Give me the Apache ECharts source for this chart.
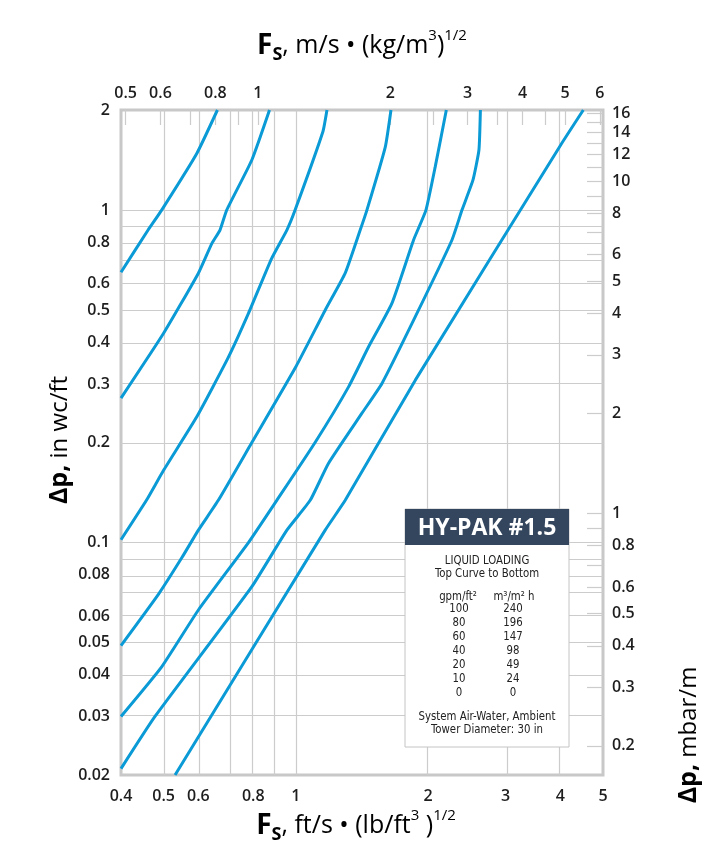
<!DOCTYPE html>
<html>
<head>
<meta charset="utf-8">
<script src="https://cdn.jsdelivr.net/npm/echarts@6/dist/echarts.min.js"></script>
<style>
  html, body { margin: 0; padding: 0; background: #fff; }
  #chart { width: 717px; height: 867px; }
</style>
</head>
<body>
<div id="chart"></div>
<script>
// ---- Data (x = Fs ft/s·(lb/ft3)^1/2, y = Δp in wc/ft) ----
const curve100 = [[0.4,0.65],[0.461,0.871],[0.495,1.0],[0.595,1.48],[0.663,2.0]];
const curve80  = [[0.4,0.272],[0.5,0.426],[0.6,0.646],[0.644,0.794],[0.672,0.871],[0.696,1.0],[0.794,1.415],[0.871,2.0]];
const curve60  = [[0.4,0.102],[0.457,0.134],[0.5,0.165],[0.595,0.239],[0.7,0.358],[0.78,0.489],[0.881,0.716],[0.954,0.871],[0.996,1.0],[1.152,1.72],[1.177,2.0]];
const curve40  = [[0.4,0.049],[0.487,0.07],[0.55,0.09],[0.6,0.109],[0.666,0.134],[0.794,0.2],[1.0,0.338],[1.166,0.5],[1.295,0.646],[1.401,0.871],[1.451,1.0],[1.598,1.55],[1.646,2.0]];
const curve20  = [[0.4,0.03],[0.495,0.0423],[0.6,0.0627],[0.78,0.1],[0.905,0.134],[1.106,0.2],[1.318,0.294],[1.464,0.388],[1.654,0.524],[1.853,0.813],[1.977,1.0],[2.076,1.351],[2.2,2.0]];
const curve10  = [[0.4,0.0209],[0.478,0.03],[0.794,0.0737],[0.954,0.109],[1.078,0.134],[1.186,0.173],[1.414,0.245],[1.57,0.301],[1.87,0.478],[2.266,0.813],[2.388,1.0],[2.53,1.232],[2.61,1.516],[2.63,2.0]];
const curve0   = [[0.531,0.02],[1.166,0.109],[1.295,0.134],[1.87,0.308],[4.006,1.57],[4.51,2.0]];

// axis ranges
const xRange = [0.4, 5];
const yRange = [0.02, 2];

// tick labels
const bottomLabels = [0.4,0.5,0.6,0.8,1,2,3,4,5];
const leftLabels   = [0.02,0.03,0.04,0.05,0.06,0.08,0.1,0.2,0.3,0.4,0.5,0.6,0.8,1,2];
const topLabels    = [0.5,0.6,0.8,1,2,3,4,5,6];
const topTicks     = [0.5,0.6,0.7,0.8,0.9,1,2,2.5,3,3.5,4,4.5,5,6];
const rightLabels  = [0.2,0.3,0.4,0.5,0.6,0.8,1,2,3,4,5,6,8,10,12,14,16];
const rightTicks   = [0.2,0.3,0.4,0.5,0.6,0.7,0.8,0.9,1,2,3,4,5,6,7,8,9,10,11,12,13,14,15,16];
const gridX = [0.5,0.6,0.7,0.8,0.9,1,2,3,4];
const gridY = [0.03,0.04,0.05,0.06,0.07,0.08,0.09,0.1,0.2,0.3,0.4,0.5,0.6,0.7,0.8,0.9,1];

// legend table
const gpmValues = [100,80,60,40,20,10,0];
const m3Values  = [240,196,147,98,49,24,0];

// unit conversions
const K_TOP = 0.3048 * Math.sqrt(16.018463);   // ft/s(lb/ft3)^.5 -> m/s(kg/m3)^.5
const K_RIGHT = 249.0889 / 0.3048 / 100;        // in wc/ft -> mbar/m

const L = Math.log10;
const curves = [curve100, curve80, curve60, curve40, curve20, curve10, curve0];
const fmt = v => String(Number(Math.pow(10, v).toPrecision(3)));

const labelFont = { fontFamily: '"Open Sans", sans-serif', fontWeight: 600, fontSize: 16, color: '#1e1e1e' };
const gridColor = '#cccccc';
const lineColor = '#0a9ad6';

const chart = echarts.init(document.getElementById('chart'), null, { renderer: 'canvas' });

const SANS = '"Open Sans", sans-serif';
const titleRich = {
  F:   { fontFamily: SANS, fontWeight: 'bold', fontSize: 28, color: '#222', lineHeight: 36 },
  S:   { fontFamily: SANS, fontWeight: 'bold', fontSize: 18, color: '#222', lineHeight: 22, verticalAlign: 'bottom' },
  r:   { fontFamily: SANS, fontWeight: 'normal', fontSize: 25, color: '#222', lineHeight: 36 },
  sup: { fontFamily: SANS, fontWeight: 'normal', fontSize: 15, color: '#222', lineHeight: 32, verticalAlign: 'top' },
  b:   { fontFamily: SANS, fontWeight: 'bold', fontSize: 25, color: '#222', lineHeight: 36 },
  rr:  { fontFamily: SANS, fontWeight: 'normal', fontSize: 24, color: '#222', lineHeight: 36 }
};

const narrow = '"Liberation Sans Narrow", "DejaVu Sans Condensed", "Liberation Sans", sans-serif';
function bodyText(txt, x, y) {
  return { type: 'text', x: x, y: y, z: 101, scaleX: 0.87,
    style: { text: txt, fill: '#222', font: '13px ' + narrow, align: 'center', verticalAlign: 'middle',
             textAlign: 'center', textVerticalAlign: 'middle' } };
}
const legendChildren = [
  { type: 'rect', shape: { x: 0, y: 0, width: 164, height: 238 }, style: { fill: '#fff', stroke: '#c4c4c4', lineWidth: 1 }, z: 100 },
  { type: 'rect', shape: { x: 0, y: 0, width: 164, height: 36 }, style: { fill: '#33465d' }, z: 101 },
  { type: 'text', x: 82, y: 19, z: 102, style: { text: 'HY-PAK #1.5', fill: '#fff', font: 'bold 23px "Open Sans", sans-serif',
      align: 'center', verticalAlign: 'middle', textAlign: 'center', textVerticalAlign: 'middle' } },
  bodyText('LIQUID LOADING', 82, 52),
  bodyText('Top Curve to Bottom', 82, 65),
  bodyText('gpm/ft²', 53, 88),
  bodyText('m³/m² h', 109, 88)
];
gpmValues.forEach((v, i) => {
  legendChildren.push(bodyText(String(v), 54, 99.5 + i * 14.1));
  legendChildren.push(bodyText(String(m3Values[i]), 108, 99.5 + i * 14.1));
});
legendChildren.push(bodyText('System Air-Water, Ambient', 82, 208));
legendChildren.push(bodyText('Tower Diameter: 30 in', 82, 221));

const series = [{
  type: 'line', data: [], z: 1, silent: true,
  markLine: {
    silent: true, symbol: ['none', 'none'], animation: false,
    label: { show: false },
    lineStyle: { color: gridColor, width: 1.2, type: 'solid' },
    emphasis: { disabled: true },
    data: gridX.map(v => ({ xAxis: L(v) })).concat(gridY.map(v => ({ yAxis: L(v) })))
  }
}];
curves.forEach(c => {
  series.push({
    type: 'line', z: 5, showSymbol: false, smooth: 0.15, silent: true, animation: false,
    lineStyle: { color: lineColor, width: 3 },
    data: c.map(p => [L(p[0]), L(p[1])])
  });
});

const option = {
  animation: false,
  backgroundColor: '#fff',
  grid: { left: 121, top: 110, width: 482, height: 665, show: true, borderColor: '#c8c8c8', borderWidth: 3,
          backgroundColor: 'transparent', containLabel: false, outerBoundsMode: 'none' },
  xAxis: [{
    type: 'value', position: 'bottom', min: L(xRange[0]), max: L(xRange[1]),
    axisLine: { show: false, onZero: false }, axisTick: { show: false }, splitLine: { show: false },
    axisLabel: Object.assign({ customValues: bottomLabels.map(L), formatter: fmt, margin: 13 }, labelFont)
  }, {
    type: 'value', position: 'top', min: L(xRange[0] * K_TOP), max: L(xRange[1] * K_TOP),
    axisLine: { show: false, onZero: false }, splitLine: { show: false },
    axisTick: { show: true, inside: true, length: 15, customValues: topTicks.map(L), lineStyle: { color: gridColor, width: 1.2 } },
    axisLabel: Object.assign({ customValues: topLabels.map(L), formatter: fmt, margin: 9 }, labelFont)
  }],
  yAxis: [{
    type: 'value', position: 'left', min: L(yRange[0]), max: L(yRange[1]),
    axisLine: { show: false, onZero: false }, axisTick: { show: false }, splitLine: { show: false },
    axisLabel: Object.assign({ customValues: leftLabels.map(L), formatter: fmt, margin: 11 }, labelFont)
  }, {
    type: 'value', position: 'right', min: L(yRange[0] * K_RIGHT), max: L(yRange[1] * K_RIGHT),
    axisLine: { show: false, onZero: false }, splitLine: { show: false },
    axisTick: { show: true, inside: true, length: 16, customValues: rightTicks.map(L), lineStyle: { color: gridColor, width: 1.2 } },
    axisLabel: Object.assign({ customValues: rightLabels.map(L), formatter: fmt, margin: 9 }, labelFont)
  }],
  series: series,
  graphic: [
    { type: 'text', x: 362, y: 46, z: 50,
      style: { text: '{F|F}{S|S}{r|, m/s • (kg/m}{sup|3}{r|)}{sup|1/2}', rich: titleRich,
               align: 'center', verticalAlign: 'middle', textAlign: 'center', textVerticalAlign: 'middle' } },
    { type: 'text', x: 356, y: 826, z: 50,
      style: { text: '{F|F}{S|S}{r|, ft/s • (lb/ft}{sup|3}{r| )}{sup|1/2}', rich: titleRich,
               align: 'center', verticalAlign: 'middle', textAlign: 'center', textVerticalAlign: 'middle' } },
    { type: 'text', x: 60, y: 440, rotation: Math.PI / 2, z: 50,
      style: { text: '{b|Δp,}{rr| in wc/ft}', rich: titleRich,
               align: 'center', verticalAlign: 'middle', textAlign: 'center', textVerticalAlign: 'middle' } },
    { type: 'text', x: 689, y: 735, rotation: Math.PI / 2, z: 50,
      style: { text: '{b|Δp,}{rr| mbar/m}', rich: titleRich,
               align: 'center', verticalAlign: 'middle', textAlign: 'center', textVerticalAlign: 'middle' } },
    { type: 'group', x: 405, y: 509, z: 100, children: legendChildren }
  ]
};
chart.setOption(option);
</script>
</body>
</html>
